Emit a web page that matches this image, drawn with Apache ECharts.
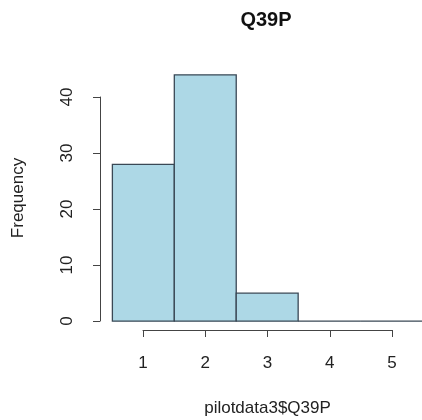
<!DOCTYPE html>
<html>
<head>
<meta charset="utf-8">
<script src="https://cdn.jsdelivr.net/npm/echarts@6/dist/echarts.min.js"></script>
<style>html,body{margin:0;padding:0;background:#fff}#c{width:422px;height:420px}</style>
</head>
<body>
<div id="c"></div>
<script>
const chartTitle = 'Q39P';
const xLabel = 'pilotdata3$Q39P';
const yLabel = 'Frequency';
const breaks = [0.5, 1.5, 2.5, 3.5, 4.5, 5.5];
const counts = [28, 44, 5, 0, 0];
const xTicks = [1, 2, 3, 4, 5];
const yTicks = [0, 10, 20, 30, 40];

const FONT = "'Liberation Sans', Arial, Helvetica, sans-serif";
const binData = counts.map((c, i) => [breaks[i], breaks[i + 1], c]);

const chart = echarts.init(document.getElementById('c'), null, {renderer: 'canvas'});
chart.setOption({
  animation: false,
  backgroundColor: '#ffffff',
  title: {
    text: chartTitle, left: 266, top: 10, padding: 0, textAlign: 'center',
    textStyle: {fontFamily: FONT, fontSize: 20, fontWeight: 'bold', color: '#111'}
  },
  grid: [
    {left: 100, right: 0, top: 65, bottom: 89},
    {left: 100, top: 97, height: 224, width: 10},
    {left: 143, width: 249, top: 320, height: 10}
  ],
  xAxis: [
    {gridIndex: 0, type: 'value', min: 0.3, max: 5.5, show: false},
    {gridIndex: 1, type: 'value', show: false},
    {gridIndex: 2, type: 'value', min: xTicks[0], max: xTicks[xTicks.length - 1], interval: 1,
     position: 'bottom',
     axisLine: {show: true, lineStyle: {color: '#444', width: 1}},
     axisTick: {show: true, length: 7, inside: false, lineStyle: {color: '#444'}},
     axisLabel: {show: true, margin: 25, fontFamily: FONT, fontSize: 17, color: '#222',
                 formatter: v => xTicks.includes(v) ? String(v) : ''},
     splitLine: {show: false},
     name: xLabel, nameLocation: 'middle', nameGap: 70,
     nameTextStyle: {fontFamily: FONT, fontSize: 17, color: '#222'}}
  ],
  yAxis: [
    {gridIndex: 0, type: 'value', min: -1.76, max: 45.76,
     axisLine: {show: false}, axisTick: {show: false}, axisLabel: {show: false}, splitLine: {show: false},
     name: yLabel, nameLocation: 'middle', nameRotate: 90, nameGap: 73,
     nameTextStyle: {fontFamily: FONT, fontSize: 17, color: '#222'}},
    {gridIndex: 1, type: 'value', min: yTicks[0], max: yTicks[yTicks.length - 1], interval: 10,
     position: 'left',
     axisLine: {show: true, lineStyle: {color: '#444', width: 1}},
     axisTick: {show: true, length: 7, inside: false, lineStyle: {color: '#444'}},
     axisLabel: {show: true, rotate: 90, margin: 24, fontFamily: FONT, fontSize: 17, color: '#222'},
     splitLine: {show: false}},
    {gridIndex: 2, type: 'value', show: false}
  ],
  series: [{
    type: 'custom',
    xAxisIndex: 0, yAxisIndex: 0,
    data: binData,
    encode: {x: [0, 1], y: 2},
    renderItem: function (params, api) {
      const p0 = api.coord([api.value(0), api.value(2)]);
      const p1 = api.coord([api.value(1), 0]);
      return {
        type: 'rect',
        shape: {x: p0[0], y: p0[1], width: p1[0] - p0[0], height: p1[1] - p0[1]},
        style: {fill: '#ADD8E6', stroke: '#3a4855', lineWidth: 1.3}
      };
    }
  }]
});
</script>
</body>
</html>
